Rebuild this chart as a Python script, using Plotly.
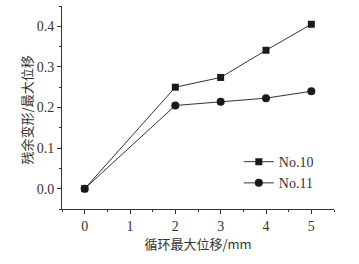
import plotly.graph_objects as go

x_vals = [0, 2, 3, 4, 5]
no10 = [0.0, 0.25, 0.274, 0.341, 0.405]
no11 = [0.0, 0.205, 0.214, 0.223, 0.240]
x_ticks = [0, 1, 2, 3, 4, 5]
y_ticks = [0.0, 0.1, 0.2, 0.3, 0.4]
y_title = "残余变形/最大位移"
x_title = "循环最大位移/mm"

fig = go.Figure()
fig.add_trace(go.Scatter(x=x_vals, y=no10, mode="lines+markers", name="No.10",
                         line=dict(color="#333333", width=1),
                         marker=dict(symbol="square", size=7, color="#1a1a1a")))
fig.add_trace(go.Scatter(x=x_vals, y=no11, mode="lines+markers", name="No.11",
                         line=dict(color="#333333", width=1),
                         marker=dict(symbol="circle", size=8, color="#1a1a1a")))

font_main = "Liberation Serif, Noto Sans CJK SC"
cjk = "Noto Sans CJK SC, Liberation Serif"
fig.update_layout(
    width=359, height=264,
    margin=dict(l=62, r=25, t=6, b=55),
    paper_bgcolor="white", plot_bgcolor="white",
    font=dict(family=font_main, size=14, color="#333333"),
    showlegend=True,
    legend=dict(x=0.65, y=0.31, xanchor="left", yanchor="top",
                bgcolor="rgba(0,0,0,0)", font=dict(size=14),
                itemwidth=30, tracegroupgap=0),
    xaxis=dict(range=[-0.5, 5.5], tickvals=x_ticks, showgrid=False, zeroline=False,
               automargin=False,
               showline=True, linecolor="#333333", linewidth=1,
               ticks="outside", ticklen=4, tickcolor="#333333",
               minor=dict(ticks="outside", ticklen=2, dtick=0.5, tick0=0, tickcolor="#333333"),
               title=dict(text=x_title, font=dict(size=13, family=cjk), standoff=4)),
    yaxis=dict(range=[-0.05, 0.45], tickvals=y_ticks, tickformat=".1f", showgrid=False, zeroline=False,
               automargin=False,
               showline=True, linecolor="#333333", linewidth=1,
               ticks="outside", ticklen=4, tickcolor="#333333",
               minor=dict(ticks="outside", ticklen=2, dtick=0.05, tick0=0, tickcolor="#333333")),
)
fig.add_annotation(text=y_title, textangle=-90, xref="paper", yref="paper",
                   x=-0.129, y=0.49, xanchor="center", yanchor="middle", showarrow=False,
                   font=dict(size=13, family=cjk, color="#333333"))
fig.write_html("out.html", config={"displayModeBar": False},
               post_script="document.body.style.margin='0';document.body.style.padding='0';")
